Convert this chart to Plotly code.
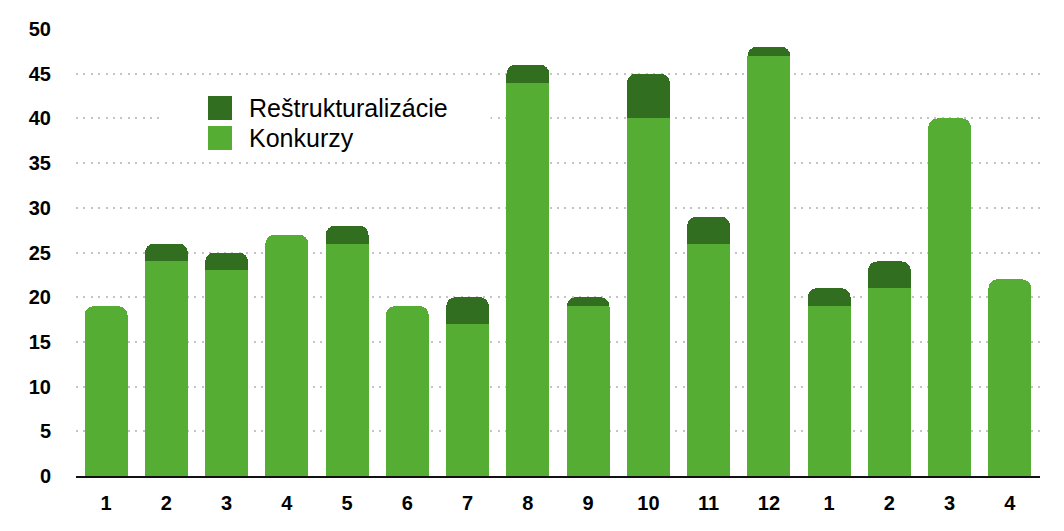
import plotly.graph_objects as go

labels = ["1", "2", "3", "4", "5", "6", "7", "8", "9", "10", "11", "12", "1", "2", "3", "4"]
konkurzy = [19, 24, 23, 27, 26, 19, 17, 44, 19, 40, 26, 47, 19, 21, 40, 22]
restrukturalizacie = [0, 2, 2, 0, 2, 0, 3, 2, 1, 5, 3, 1, 2, 3, 0, 0]
y_ticks = [0, 5, 10, 15, 20, 25, 30, 35, 40, 45, 50]
legend_names = ["Reštrukturalizácie", "Konkurzy"]

LIGHT = "#55AD33"
DARK = "#316E1F"
FONT = "Liberation Sans, Arial, Helvetica, sans-serif"

x = list(range(len(labels)))

fig = go.Figure()
fig.add_trace(go.Bar(x=x, y=konkurzy, marker=dict(color=LIGHT, line=dict(width=0)),
                     name="Konkurzy", showlegend=False))
fig.add_trace(go.Bar(x=x, y=restrukturalizacie, marker=dict(color=DARK, line=dict(width=0)),
                     name="Reštrukturalizácie", showlegend=False))

# manual legend (paper coordinates)
shapes = [dict(type="rect", xref="paper", yref="paper", x0=0.092, x1=0.43, y0=0.711, y1=0.881,
               fillcolor="white", line=dict(width=0), layer="above")]
annotations = []
for i, (name, col) in enumerate(zip(legend_names, [DARK, LIGHT])):
    top = 0.8501 - i * 0.0671
    shapes.append(dict(type="rect", xref="paper", yref="paper", x0=0.1369, x1=0.1618,
                       y0=top - 0.0537, y1=top, fillcolor=col, line=dict(width=0), layer="above"))
    annotations.append(dict(xref="paper", yref="paper", x=0.1774, y=top - 0.0268, text=name,
                            showarrow=False, xanchor="left", yanchor="middle",
                            font=dict(size=25, family=FONT, color="black")))

fig.update_layout(
    width=1064, height=531,
    margin=dict(l=68, r=32, t=21, b=63),
    barmode="stack", bargap=0.29, barcornerradius=9,
    plot_bgcolor="white", paper_bgcolor="white",
    font=dict(family=FONT, color="black"),
    showlegend=False, shapes=shapes, annotations=annotations,
)
fig.update_xaxes(
    tickvals=x, ticktext=labels, range=[-0.5, len(labels) - 0.5], automargin=False,
    showline=True, linecolor="#111111", linewidth=2, showgrid=False,
    ticks="", tickfont=dict(size=20, family=FONT, weight="bold"), ticklabelstandoff=8,
)
fig.update_yaxes(
    range=[0, 50], tickvals=y_ticks, showgrid=True, gridcolor="#C4C4C4", gridwidth=1.5,
    griddash="2px,5.4px", zeroline=False, showline=False, ticks="", automargin=False,
    tickfont=dict(size=20, family=FONT, weight="bold"), ticklabelstandoff=24,
)
fig.write_html("out.html")
